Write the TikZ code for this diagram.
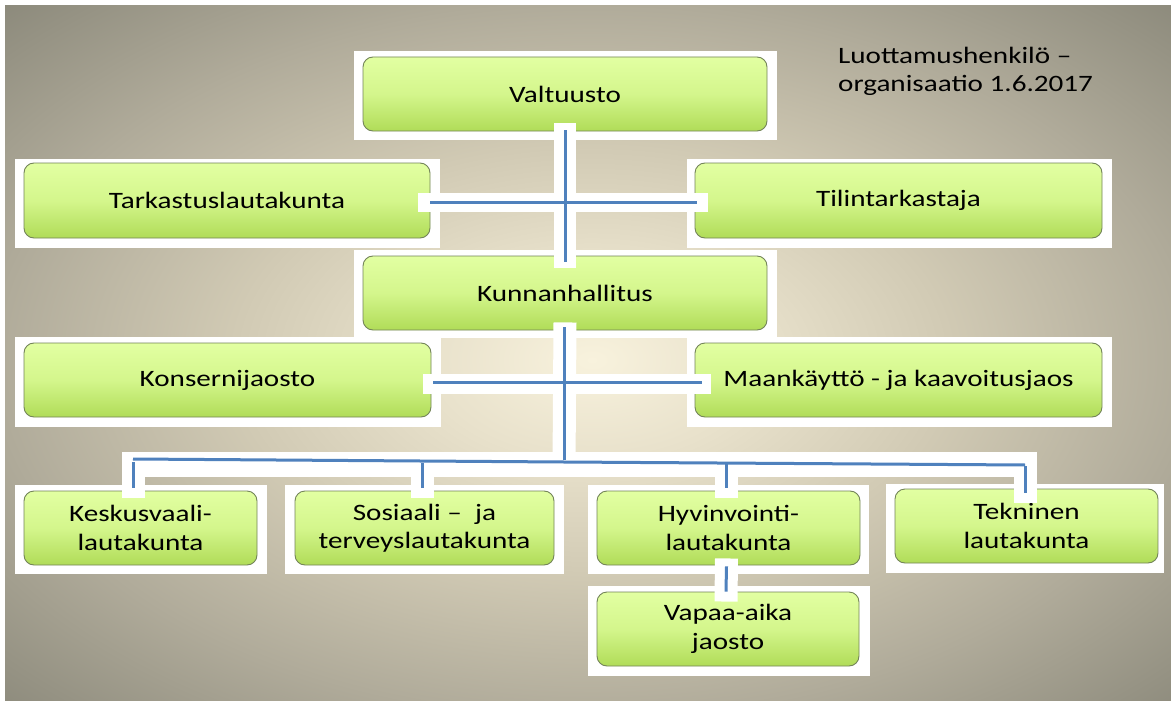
\documentclass[tikz,border=0pt]{standalone}
\usepackage{fontspec}
\setmainfont{Carlito}[FakeStretch=1.24]
\usetikzlibrary{calc}
\definecolor{gtop}{RGB}{226,255,162}
\definecolor{gmid}{RGB}{212,246,140}
\definecolor{gbot}{RGB}{176,220,88}
\definecolor{gedge}{RGB}{115,132,88}
\definecolor{cblue}{RGB}{79,129,189}
\definecolor{bga}{RGB}{248,242,221}
\definecolor{bgb}{RGB}{232,225,203}
\definecolor{bgc}{RGB}{209,202,180}
\definecolor{bgm}{RGB}{176,171,154}
\definecolor{bgd}{RGB}{137,135,121}
\pgfdeclareradialshading{bgshade}{\pgfpoint{0bp}{0bp}}{color(0bp)=(bga); color(14bp)=(bgb); color(30bp)=(bgc); color(50bp)=(bgm); color(72bp)=(bgd)}
\begin{document}
\begin{tikzpicture}[x=1pt,y=-1pt,
  gbox/.style={rounded corners=10pt, draw=gedge, line width=0.9pt,
    top color=gtop, bottom color=gbot, middle color=gmid,
    inner sep=0pt, align=center, text=black,
    font=\fontsize{23.5}{28.5}\selectfont},
  band/.style={draw=white, line width=22pt, line cap=butt},
  conn/.style={draw=cblue, line width=3pt, line cap=butt}]
\useasboundingbox (0,0) rectangle (1171,701);
\fill[white] (0,0) rectangle (1171,701);
\begin{scope}
  \clip (5,6) rectangle (1171,701);
  \pgftransformshift{\pgfpointxy{592}{360}}
  \pgftransformxscale{11.9}
  \pgftransformyscale{7.1}
  \pgflowlevelsynccm
  \pgfuseshading{bgshade}
\end{scope}

% frames (drawn before the boxes)
\fill[white] (354,51) rectangle (777,140);
\fill[white] (15,159) rectangle (440,248);
\fill[white] (687,159) rectangle (1112,248);
\fill[white] (354,250) rectangle (777,338);
\fill[white] (15,337) rectangle (441,427);
\fill[white] (687,337) rectangle (1112,427);
\fill[white] (15,485) rectangle (267,574);
\fill[white] (285,485) rectangle (564,574);
\fill[white] (588,485) rectangle (869,574);
\fill[white] (886,484) rectangle (1164,573);
\fill[white] (588,586) rectangle (870,676);

% boxes
\node[gbox, minimum width=404pt, minimum height=74pt] (valt) at (565,94) {Valtuusto};
\node[gbox, minimum width=406pt, minimum height=75pt] (tark) at (227,200.5) {Tarkastuslautakunta};
\node[gbox, minimum width=407pt, minimum height=75pt] (tili) at (898.5,200.5) {Tilintarkastaja};
\node[gbox, minimum width=404pt, minimum height=74pt] (kunn) at (565,293) {Kunnanhallitus};
\node[gbox, minimum width=407pt, minimum height=74pt] (kons) at (227.5,380) {Konsernijaosto};
\node[gbox, minimum width=407pt, minimum height=74pt] (maan) at (898.5,380) {Maankäyttö - ja kaavoitusjaos};
\node[gbox, minimum width=233pt, minimum height=74pt] (kesk) at (140.5,528) {Keskusvaali-\\lautakunta};
\node[gbox, minimum width=259pt, minimum height=74pt] (sos) at (424.5,528) {Sosiaali – \ ja\\terveyslautakunta};
\node[gbox, minimum width=263pt, minimum height=74pt] (hyv) at (728.5,528) {Hyvinvointi-\\lautakunta};
\node[gbox, minimum width=263pt, minimum height=74pt] (tek) at (1026.5,526) {Tekninen\\lautakunta};
\node[gbox, minimum width=262pt, minimum height=74pt] (vap) at (728,629) {Vapaa-aika\\jaosto};

% title
\node[anchor=north west, align=left, inner sep=0pt, text=black,
  font=\fontsize{23.5}{28.5}\selectfont] (title) at (838,46.5)
  {Luottamushenkilö –\\organisaatio 1.6.2017};

% bus coordinates
\coordinate (busL) at (133,459);
\coordinate (busM) at (564,462);
\coordinate (busR) at (1025,465);
\coordinate (d1) at (133,462);
\coordinate (d2) at (422,463);
\coordinate (d3) at (726,464);
\coordinate (d4) at (1025,466);

% white bands
\draw[band] ($(valt.south)+(0,-8)$) -- ($(kunn.north)+(0,12)$);
\draw[band, line width=19pt] ($(tark.east)+(-12,1.5)$) -- ($(tili.west)+(13,1.5)$);
\draw[band, line width=23pt] ($(kunn.south)+(0,-8)$) -- (564,468);
\draw[band, line width=20pt] ($(kons.east)+(-8,4)$) -- ($(maan.west)+(16,4)$);
\draw[band, line width=25pt] (122,464.5) -- (1037,464.5);
\draw[band, line width=23pt] (133,452) -- ($(133,0 |- kesk.north)+(0,7)$);
\draw[band, line width=23pt] (422,452) -- ($(422,0 |- sos.north)+(0,7)$);
\draw[band, line width=23pt] (726,452) -- ($(726,0 |- hyv.north)+(0,7)$);
\draw[band, line width=23pt] (1025,452) -- ($(1025,0 |- tek.north)+(0,14)$);
\draw[band, line width=23pt] ($(hyv.south)+(-2,-7)$) -- ($(vap.north)+(-2,10)$);

% blue connectors
\draw[conn] ($(valt.south)+(0,-1)$) -- ($(kunn.north)+(0,6)$);
\draw[conn] ($(tark.east)+(0,1.5)$) -- ($(tili.west)+(2,1.5)$);
\draw[conn] ($(kunn.south)+(-1,-3)$) -- ($(busM)+(0,-2)$);
\draw[conn] ($(kons.east)+(2,2)$) -- ($(maan.west)+(7,2)$);
\draw[conn] (busL) -- (busM) -- (busR);
\draw[conn] (d1) -- ($(133,0 |- kesk.north)+(0,-3)$);
\draw[conn] (d2) -- ($(422,0 |- sos.north)+(0,-3)$);
\draw[conn] (d3) -- ($(726,0 |- hyv.north)+(0,-3)$);
\draw[conn] (d4) -- ($(1025,0 |- tek.north)+(0,4)$);
\draw[conn] ($(hyv.south)+(-2,1)$) -- ($(vap.north)+(-2,0)$);
\end{tikzpicture}
\end{document}
